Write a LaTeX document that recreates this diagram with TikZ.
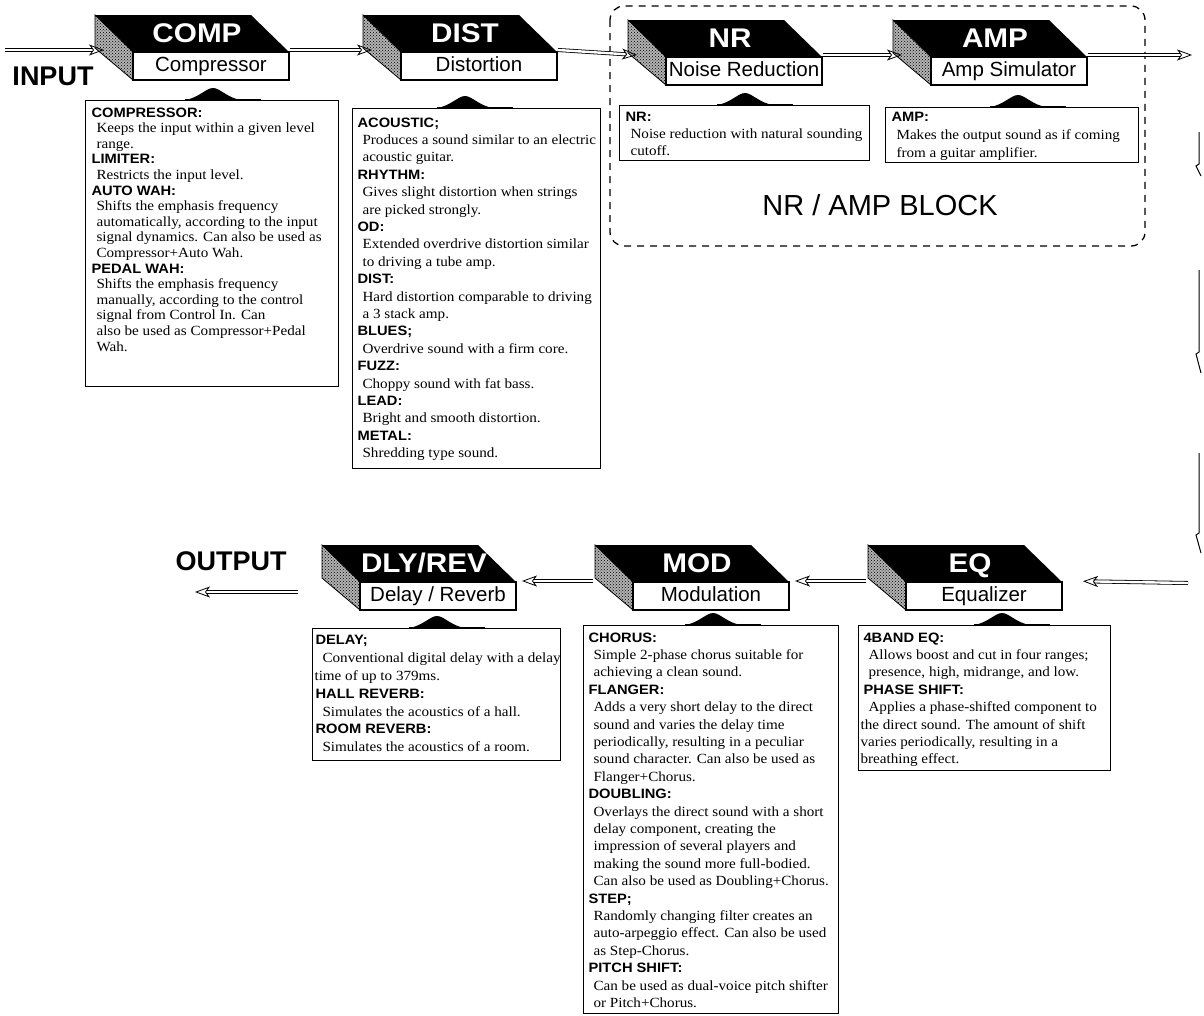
\documentclass[tikz,border=0pt]{standalone}
\usepackage{fontspec}
\setmainfont{Liberation Serif}[FakeStretch=1.08]
\newfontfamily\hf{Liberation Sans}
\newfontfamily\hdf{Liberation Sans}[FakeStretch=1.08]
\usetikzlibrary{arrows.meta,patterns,calc}
\newlength\hdind \newlength\lnind
\setlength\hdind{6pt}\setlength\lnind{11pt}
\newcommand\Hd[1]{\hspace*{\hdind}{\hdf\bfseries\fontsize{13.6}{13.6}\selectfont #1}\\}
\newcommand\Ln[1]{\hspace*{\lnind}#1\\}
\newcommand\Lx[1]{\hspace*{2pt}#1\\}
\newcommand\Desc[5]{\begin{minipage}[t][#2][t]{#1}\vspace*{#4}\fontsize{14}{#3}\selectfont\raggedright #5\end{minipage}}
\newcommand\fxblock[5]{%
 \begin{scope}[shift={(#2,#3)}]
  \fill[black] (0,0) -- (156,0) -- (194,37) -- (38,37) -- cycle;
  \fill[black!30] (0,0) -- (38,37) -- (38,65) -- (0,33) -- cycle;
  \draw[line width=0.8pt, pattern=crosshatch dots] (0,0) -- (38,37) -- (38,65) -- (0,33) -- cycle;
  \node[frontbox] (#1f) at (116,51) {#5};
  \node[ttl] (#1t) at (102,18) {#4};
  \coordinate (#1a) at (9,35);
  \coordinate (#1b) at (195,35);
  \coordinate (#1c) at (-2,36);
  \coordinate (#1d) at (200,36);
 \end{scope}}
\newcommand\hump[2]{%
 \fill ({#1-30},{#2+0.6}) .. controls ({#1-14},{#2-2}) and ({#1-7},{#2-12}) .. ({#1},{#2-12})
   .. controls ({#1+7},{#2-12}) and ({#1+14},{#2-2}) .. ({#1+30},{#2+0.6}) -- cycle;
 \draw[line width=2.2pt] ({#1-28},{#2}) -- ({#1+48},{#2});}
\begin{document}
\begin{tikzpicture}[x=1pt,y=-1pt,
  frontbox/.style={draw, line width=1.1pt, fill=white, minimum width=156pt, minimum height=28pt, inner sep=0pt,
     text height=15pt, text depth=4pt, font=\hf\fontsize{20.5}{20.5}\selectfont},
  ttl/.style={text=white, font=\hf\bfseries\fontsize{27}{27}\selectfont, xscale=1.1, inner sep=0pt,
     text height=19.5pt, text depth=0pt},
  descbox/.style={draw, line width=1.1pt, fill=white, inner sep=0pt, anchor=north west},
  lbl/.style={font=\hf\bfseries\fontsize{27}{27}\selectfont, inner sep=0pt},
  dbl/.style={double, double distance=2.4pt, line width=0.8pt, -{Stealth[open,length=15pt,width=11pt,inset=4pt]}},
  frag/.style={line width=1pt}]
\useasboundingbox (0,0) rectangle (1204,1015);
\fill[white] (0,0) rectangle (1204,1015);

% NR/AMP dashed group
\draw[line width=1.3pt, dash pattern=on 7pt off 6pt, rounded corners=14pt] (610,6) rectangle (1145,246);
\node[font=\hf\fontsize{29}{29}\selectfont, inner sep=0pt] (blk) at (880,205) {NR / AMP BLOCK};

% blocks
\fxblock{comp}{95}{15}{COMP}{Compressor}
\fxblock{dist}{363}{15}{DIST}{Distortion}
\fxblock{nr}{628}{20}{NR}{Noise Reduction}
\fxblock{amp}{893}{20}{AMP}{Amp Simulator}
\fxblock{dly}{322}{545}{DLY/REV}{Delay / Reverb}
\fxblock{mod}{595}{545}{MOD}{Modulation}
\fxblock{eq}{868}{545}{EQ}{Equalizer}

% labels
\node[lbl] (input) at (53,76) {INPUT};
\node[lbl] (output) at (231,561) {OUTPUT};

% description boxes
\node[descbox] (compdesc) at (85,100) {\Desc{253pt}{286pt}{15.6pt}{7pt}{%
\Hd{COMPRESSOR:}
\Ln{Keeps the input within a given level}
\Ln{range.}
\Hd{LIMITER:}
\Ln{Restricts the input level.}
\Hd{AUTO WAH:}
\Ln{Shifts the emphasis frequency}
\Ln{automatically, according to the input}
\Ln{signal dynamics. Can also be used as}
\Ln{Compressor+Auto Wah.}
\Hd{PEDAL WAH:}
\Ln{Shifts the emphasis frequency}
\Ln{manually, according to the control}
\Ln{signal from Control In. Can}
\Ln{also be used as Compressor+Pedal}
\Ln{Wah.}}};
\hump{213}{100}

\node[descbox] (distdesc) at (352,108) {\Desc{248pt}{360pt}{17.4pt}{9pt}{%
\setlength\hdind{5pt}\setlength\lnind{10pt}%
\Hd{ACOUSTIC;}
\Ln{Produces a sound similar to an electric}
\Ln{acoustic guitar.}
\Hd{RHYTHM:}
\Ln{Gives slight distortion when strings}
\Ln{are picked strongly.}
\Hd{OD:}
\Ln{Extended overdrive distortion similar}
\Ln{to driving a tube amp.}
\Hd{DIST:}
\Ln{Hard distortion comparable to driving}
\Ln{a 3 stack amp.}
\Hd{BLUES;}
\Ln{Overdrive sound with a firm core.}
\Hd{FUZZ:}
\Ln{Choppy sound with fat bass.}
\Hd{LEAD:}
\Ln{Bright and smooth distortion.}
\Hd{METAL:}
\Ln{Shredding type sound.}}};
\hump{465}{108}

\node[descbox] (nrdesc) at (619,105) {\Desc{250pt}{55pt}{17pt}{7pt}{%
\Hd{NR:}
\Ln{Noise reduction with natural sounding}
\Ln{cutoff.}}};
\hump{745}{105}

\node[descbox] (ampdesc) at (885,107) {\Desc{253pt}{55pt}{18pt}{5pt}{%
\Hd{AMP:}
\Ln{Makes the output sound as if coming}
\Ln{from a guitar amplifier.}}};
\hump{1018}{107}

\node[descbox] (dlydesc) at (312,628) {\Desc{248pt}{132pt}{17.8pt}{7pt}{%
\setlength\hdind{3pt}\setlength\lnind{10pt}%
\Hd{DELAY;}
\Ln{Conventional digital delay with a delay}
\Lx{time of up to 379ms.}
\Hd{HALL REVERB:}
\Ln{Simulates the acoustics of a hall.}
\Hd{ROOM REVERB:}
\Ln{Simulates the acoustics of a room.}}};
\hump{437}{628}

\node[descbox] (moddesc) at (583,625) {\Desc{255pt}{388pt}{17.4pt}{7pt}{%
\setlength\hdind{5pt}\setlength\lnind{10pt}%
\Hd{CHORUS:}
\Ln{Simple 2-phase chorus suitable for}
\Ln{achieving a clean sound.}
\Hd{FLANGER:}
\Ln{Adds a very short delay to the direct}
\Ln{sound and varies the delay time}
\Ln{periodically, resulting in a peculiar}
\Ln{sound character. Can also be used as}
\Ln{Flanger+Chorus.}
\Hd{DOUBLING:}
\Ln{Overlays the direct sound with a short}
\Ln{delay component, creating the}
\Ln{impression of several players and}
\Ln{making the sound more full-bodied.}
\Ln{Can also be used as Doubling+Chorus.}
\Hd{STEP;}
\Ln{Randomly changing filter creates an}
\Ln{auto-arpeggio effect. Can also be used}
\Ln{as Step-Chorus.}
\Hd{PITCH SHIFT:}
\Ln{Can be used as dual-voice pitch shifter}
\Ln{or Pitch+Chorus.}}};
\hump{713}{625}

\node[descbox] (eqdesc) at (858,625) {\Desc{252pt}{145pt}{17.4pt}{7pt}{%
\setlength\hdind{5pt}\setlength\lnind{10pt}%
\Hd{4BAND EQ:}
\Ln{Allows boost and cut in four ranges;}
\Ln{presence, high, midrange, and low.}
\Hd{PHASE SHIFT:}
\Ln{Applies a phase-shifted component to}
\Lx{the direct sound. The amount of shift}
\Lx{varies periodically, resulting in a}
\Lx{breathing effect.}}};
\hump{1002}{625}

% connectors top row
\coordinate (inl) at (5,50);
\coordinate (outr) at (1192,55);
\draw[dbl] (inl) -- (compa);
\draw[dbl] (compb) -- (dista);
\draw[dbl] (distb) -- (nra);
\draw[dbl] (nrb) -- (ampa);
\draw[dbl] (ampb) -- (outr);

% right side return arrow fragments
\coordinate (r1) at (1199,132);
\coordinate (r2) at (1199,270);
\coordinate (r3) at (1199,453);
\draw[frag] (r1) -- ++(0,32) -- ++(-3,2) -- ++(5,10);
\draw[frag] (r2) -- ++(0,82) -- ++(-3,2) -- ++(5,19);
\draw[frag] (r3) -- ++(0,80) -- ++(-3,2) -- ++(5,18);

% connectors bottom row
\coordinate (inr) at (1188,583);
\draw[dbl, shorten >=15pt] (inr) -- (eqd);
\draw[dbl] (eqc) -- (modd);
\draw[dbl] (modc) -- (dlyd);
\coordinate (outl) at (195,592);
\draw[dbl] ($(dlyc)+(-22,11)$) -- (outl);
\end{tikzpicture}
\end{document}
